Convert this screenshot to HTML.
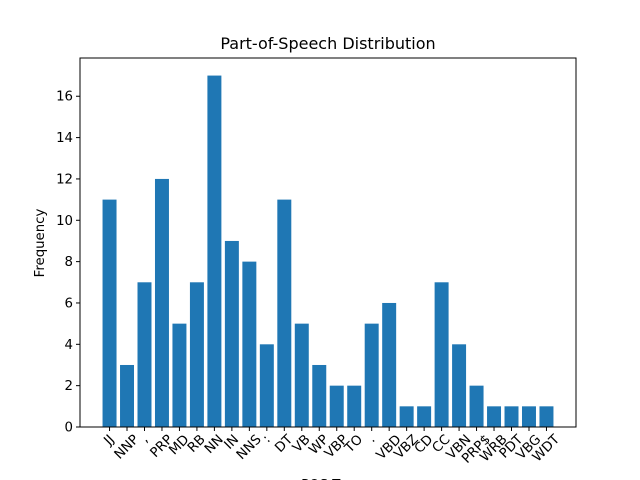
<!DOCTYPE html>
<html><head><meta charset="utf-8"><style>body{margin:0;background:#fff}svg{display:block}text{font-family:"DejaVu Sans","Liberation Sans",sans-serif;}</style></head>
<body>
<svg id="c" width="640" height="480">
<rect width="640" height="480" fill="#fff"/>
<text x="328" y="49" font-size="16" text-anchor="middle">Part-of-Speech Distribution</text>
<text x="0" y="0" font-size="13.3" text-anchor="middle" transform="translate(44,243) rotate(-90)">Frequency</text>
<text x="328" y="489" font-size="13.3" text-anchor="middle">POS Tag</text>
<g id="g"></g>
<rect x="80" y="58" width="496" height="369" fill="none" stroke="#000" stroke-width="1"/>
</svg>
<script>
const categories=["JJ","NNP",",","PRP","MD","RB","NN","IN","NNS",":","DT","VB","WP","VBP","TO",".","VBD","VBZ","CD","CC","VBN","PRP$","WRB","PDT","VBG","WDT"];
const counts=[11,3,7,12,5,7,17,9,8,4,11,5,3,2,2,5,6,1,1,7,4,2,1,1,1,1];
const yTicks=[0,2,4,6,8,10,12,14,16];
const NS="http://www.w3.org/2000/svg";
const g=document.getElementById("g");
const L=80,R=576,T=58,B=427;
const n=categories.length;
const xmin=-0.4-0.05*(n-0.2),xmax=n-0.6+0.05*(n-0.2);
const ymax=Math.max(...counts)*1.05;
const xs=v=>L+(v-xmin)/(xmax-xmin)*(R-L);
const ys=v=>B-v/ymax*(B-T);
function mk(t,a){const e=document.createElementNS(NS,t);for(const k in a)e.setAttribute(k,a[k]);g.appendChild(e);return e;}
counts.forEach((c,i)=>{
 const r=mk("rect",{x:xs(i-0.4),y:ys(c),width:xs(i+0.4)-xs(i-0.4),height:B-ys(c),fill:"#1f77b4"});
 
 
 const tk=mk("line",{x1:xs(i),x2:xs(i),y1:B,y2:B+4,stroke:"#000"});
 
 
 const t=mk("text",{"font-size":13.3,"text-anchor":"middle","dominant-baseline":"central"});
 t.textContent=categories[i];
 const len=t.getComputedTextLength();
 const cy=B+6+(len*0.707+13*0.707)/2;
 t.setAttribute("transform","translate("+xs(i)+","+cy+") rotate(-45)");
 
 
});
yTicks.forEach(v=>{
 const tk=mk("line",{x1:L-4,x2:L,y1:ys(v),y2:ys(v),stroke:"#000"});
 
 
 const t=mk("text",{x:L-7,y:ys(v)+4.5,"font-size":13.3,"text-anchor":"end"});
 t.textContent=v;
 
 
});
</script>
</body></html>
